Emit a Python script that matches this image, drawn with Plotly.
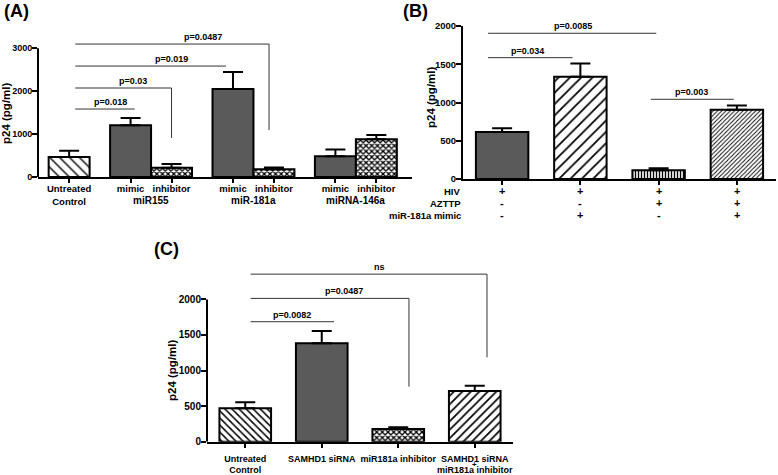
import plotly.graph_objects as go

FONT = "Arial, 'Liberation Sans', Helvetica, sans-serif"
W, H = 778, 475
SOLID = "#5a5a5a"

# ---------------- Panel A data ----------------
a_group_names = ["", "miR155", "miR-181a", "miRNA-146a"]
a_group_bars = [["Untreated<br>Control"], ["mimic", "inhibitor"], ["mimic", "inhibitor"], ["mimic", "inhibitor"]]
a_values = [466, 1205, 215, 2050, 180, 485, 880]
a_errors = [145, 170, 88, 400, 40, 155, 100]
a_fills = ["back", "solid", "check", "solid", "check", "solid", "check"]
a_yticks = [0, 1000, 2000, 3000]
# (from, to, level, drop_to, label, label_x)
a_brackets = [
    (0.15, 1.6, 1585, None, "p=0.018", 1.0),
    (0.15, 2.5, 2075, 909, "p=0.03", 1.56),
    (0.15, 3.83, 2587, None, "p=0.019", 2.5),
    (0.15, 4.88, 3100, 1096, "p=0.0487", 3.27),
]

# ---------------- Panel B data ----------------
b_values = [615, 1335, 115, 905]
b_errors = [50, 175, 25, 55]
b_fills = ["solid", "fwd_wide", "vert", "fwd_fine"]
b_rows = ["HIV", "AZTTP", "miR-181a mimic"]
b_table = [["+", "-", "-"], ["+", "-", "+"], ["+", "+", "-"], ["+", "+", "+"]]
b_yticks = [0, 500, 1000, 1500, 2000]
b_brackets = [
    (-0.18, 0.9, 1586, None, "p=0.034", 0.32),
    (-0.18, 1.97, 1905, None, "p=0.0085", 0.9),
    (1.9, 2.96, 1042, None, "p=0.003", 2.42),
]

# ---------------- Panel C data ----------------
c_labels = ["Untreated<br>Control", "SAMHD1 siRNA", "miR181a inhibitor", "SAMHD1 siRNA<br>miR181a inhibitor"]
c_values = [469, 1382, 178, 712]
c_errors = [85, 175, 25, 75]
c_fills = ["back_c", "solid", "check", "fwd_c"]
c_yticks = [0, 500, 1000, 1500, 2000]
c_brackets = [
    (0.07, 1.16, 1686, None, "p=0.0082", 0.61),
    (0.07, 2.14, 2014, 773, "p=0.0487", 1.29),
    (0.07, 3.16, 2355, 1185, "ns", 1.75),
]

FILL_STYLES = {
    "solid": None,
    "back": dict(shape="\\", size=7, solidity=0.2),
    "back_c": dict(shape="\\", size=5, solidity=0.3),
    "check": dict(shape="x", size=4, solidity=0.55),
    "fwd_wide": dict(shape="/", size=8, solidity=0.22),
    "fwd_c": dict(shape="/", size=6, solidity=0.28),
    "fwd_fine": dict(shape="/", size=3, solidity=0.3),
    "vert": dict(shape="|", size=3, solidity=0.45),
}

fig = go.Figure()


def add_bars(xs, vals, errs, fills, width, xa, ya):
    for style in dict.fromkeys(fills):
        idx = [i for i, f in enumerate(fills) if f == style]
        spec = FILL_STYLES[style]
        marker = dict(line=dict(color="black", width=2))
        if spec is None:
            marker["color"] = SOLID
        else:
            marker["color"] = "white"
            marker["pattern"] = dict(shape=spec["shape"], size=spec["size"],
                                     solidity=spec["solidity"], fgcolor="black",
                                     bgcolor="white", fillmode="replace")
        fig.add_trace(go.Bar(
            x=[xs[i] for i in idx], y=[vals[i] for i in idx], width=width,
            xaxis=xa, yaxis=ya, marker=marker,
            error_y=dict(type="data", array=[errs[i] for i in idx],
                         arrayminus=[0] * len(idx), symmetric=False,
                         color="black", thickness=2, width=10),
            hoverinfo="skip", showlegend=False,
        ))


# positions for A: groups separated by half a bar
a_pos, a_ticktext, a_group_centers = [], [], []
p = 0.0
for gi, bars in enumerate(a_group_bars):
    if gi > 0:
        p += 0.5
    start = p
    for lab in bars:
        a_pos.append(p)
        a_ticktext.append(lab)
        p += 1
    a_group_centers.append((start + p - 1) / 2)

b_pos = list(range(len(b_values)))
c_pos = list(range(len(c_values)))

add_bars(a_pos, a_values, a_errors, a_fills, 1.0, "x", "y")
add_bars(b_pos, b_values, b_errors, b_fills, 0.67, "x2", "y2")
add_bars(c_pos, c_values, c_errors, c_fills, 0.675, "x3", "y3")

shapes, annotations = [], []


def add_brackets(brackets, xr, yr):
    for x0, x1, lvl, drop, lab, lx in brackets:
        shapes.append(dict(type="line", xref=xr, yref=yr, x0=x0, x1=x1, y0=lvl, y1=lvl,
                           line=dict(color="#333333", width=1)))
        if drop is not None:
            shapes.append(dict(type="line", xref=xr, yref=yr, x0=x1, x1=x1, y0=lvl, y1=drop,
                               line=dict(color="#333333", width=1)))
        annotations.append(dict(xref=xr, yref=yr, x=lx, y=lvl, text=lab, showarrow=False,
                                yanchor="bottom", xanchor="center",
                                font=dict(family=FONT, size=9, color="black", weight="bold")))


add_brackets(a_brackets, "x", "y")
add_brackets(b_brackets, "x2", "y2")
add_brackets(c_brackets, "x3", "y3")

# y axis lines for A and C (only up to the top tick)
shapes.append(dict(type="line", xref="x domain", yref="y", x0=0, x1=0, y0=0, y1=a_yticks[-1],
                   line=dict(color="black", width=2)))
shapes.append(dict(type="line", xref="x3 domain", yref="y3", x0=0, x1=0, y0=0, y1=c_yticks[-1],
                   line=dict(color="black", width=2)))

# Panel A group names
for name, cx in zip(a_group_names, a_group_centers):
    if name:
        annotations.append(dict(xref="x", yref="paper", x=cx, y=1 - 200 / H, text=name,
                                showarrow=False, yanchor="middle",
                                font=dict(family=FONT, size=10, color="black", weight="bold")))

# Panel B condition table (row labels + +/- signs)
row_px = [191, 203, 215]
for r, (row_name, ypx) in enumerate(zip(b_rows, row_px)):
    annotations.append(dict(xref="paper", yref="paper", x=462 / W, y=1 - ypx / H,
                            text=row_name, showarrow=False, xanchor="right", yanchor="middle",
                            borderpad=0,
                            font=dict(family=FONT, size=9.5, color="black", weight="bold")))
    for c, col in enumerate(b_table):
        annotations.append(dict(xref="x2", yref="paper", x=b_pos[c], y=1 - ypx / H,
                                text=col[r], showarrow=False, xanchor="center", yanchor="middle",
                                borderpad=0,
                                font=dict(family=FONT, size=11, color="black", weight="bold")))

# Panel C plus sign in last label
annotations.append(dict(xref="x3", yref="paper", x=c_pos[-1], y=1 - 464 / H, text="+",
                        showarrow=False, yanchor="middle", borderpad=0,
                        font=dict(family=FONT, size=8, color="black", weight="bold")))

# y titles
for xpx, ypx in [(6, 113), (431, 97), (172, 370)]:
    annotations.append(dict(xref="paper", yref="paper", x=xpx / W, y=1 - ypx / H,
                            text="p24 (pg/ml)", textangle=-90, showarrow=False,
                            xanchor="center", yanchor="middle",
                            font=dict(family=FONT, size=11.5, color="black", weight="bold")))

# panel labels
for lab, xpx, ypx in [("(A)", 2, 11), ("(B)", 401, 11), ("(C)", 152, 249)]:
    annotations.append(dict(xref="paper", yref="paper", x=xpx / W, y=1 - ypx / H, text=lab,
                            showarrow=False, xanchor="left", yanchor="middle",
                            font=dict(family=FONT, size=18, color="black", weight="bold")))

common_x = dict(showline=True, linecolor="black", linewidth=2, ticks="outside", ticklen=4,
                tickwidth=1.5, tickcolor="black", showgrid=False, zeroline=False,
                fixedrange=True, automargin=False, tickangle=0)
common_y = dict(ticks="outside", ticklen=5, tickwidth=2, tickcolor="black",
                showgrid=False, zeroline=False, fixedrange=True, automargin=False,
                ticklabelstandoff=-2)

fig.update_layout(
    template="none",
    width=W, height=H, margin=dict(l=0, r=0, t=0, b=0, pad=0), autosize=False,
    paper_bgcolor="white", plot_bgcolor="white",
    barmode="overlay", showlegend=False,
    xaxis=dict(domain=[38 / W, 412 / W], range=[-0.76, 8.37], anchor="y",
               tickvals=a_pos, ticktext=a_ticktext, ticklabelstandoff=-2,
               tickfont=dict(family=FONT, size=9.5, color="black", weight="bold"), **common_x),
    yaxis=dict(domain=[1 - 177 / H, 1 - 26.9 / H], range=[0, 3500], anchor="x", showline=False,
               tickvals=a_yticks,
               tickfont=dict(family=FONT, size=9, color="black", weight="bold"), **common_y),
    xaxis2=dict(domain=[463 / W, 776 / W], range=[-0.5, 3.5], anchor="y2",
                tickvals=b_pos, ticktext=[""] * len(b_pos), **common_x),
    yaxis2=dict(domain=[1 - 179 / H, 1 - 26 / H], range=[0, 2000], anchor="x2", showline=True,
                linecolor="black", linewidth=2, tickvals=b_yticks,
                tickfont=dict(family=FONT, size=9.5, color="black", weight="bold"), **common_y),
    xaxis3=dict(domain=[207 / W, 513 / W], range=[-0.5, 3.5], anchor="y3",
                tickvals=c_pos, ticktext=c_labels, ticklabelstandoff=3,
                tickfont=dict(family=FONT, size=9, color="black", weight="bold"), **common_x),
    yaxis3=dict(domain=[1 - 441.7 / H, 1 - 256.7 / H], range=[0, 2600], anchor="x3",
                showline=False, tickvals=c_yticks,
                tickfont=dict(family=FONT, size=10, color="black", weight="bold"), **common_y),
    shapes=shapes, annotations=annotations,
)

fig.write_html(
    "out.html",
    config={"displayModeBar": False},
    post_script="document.body.style.margin='0';document.body.style.overflow='hidden';",
)
